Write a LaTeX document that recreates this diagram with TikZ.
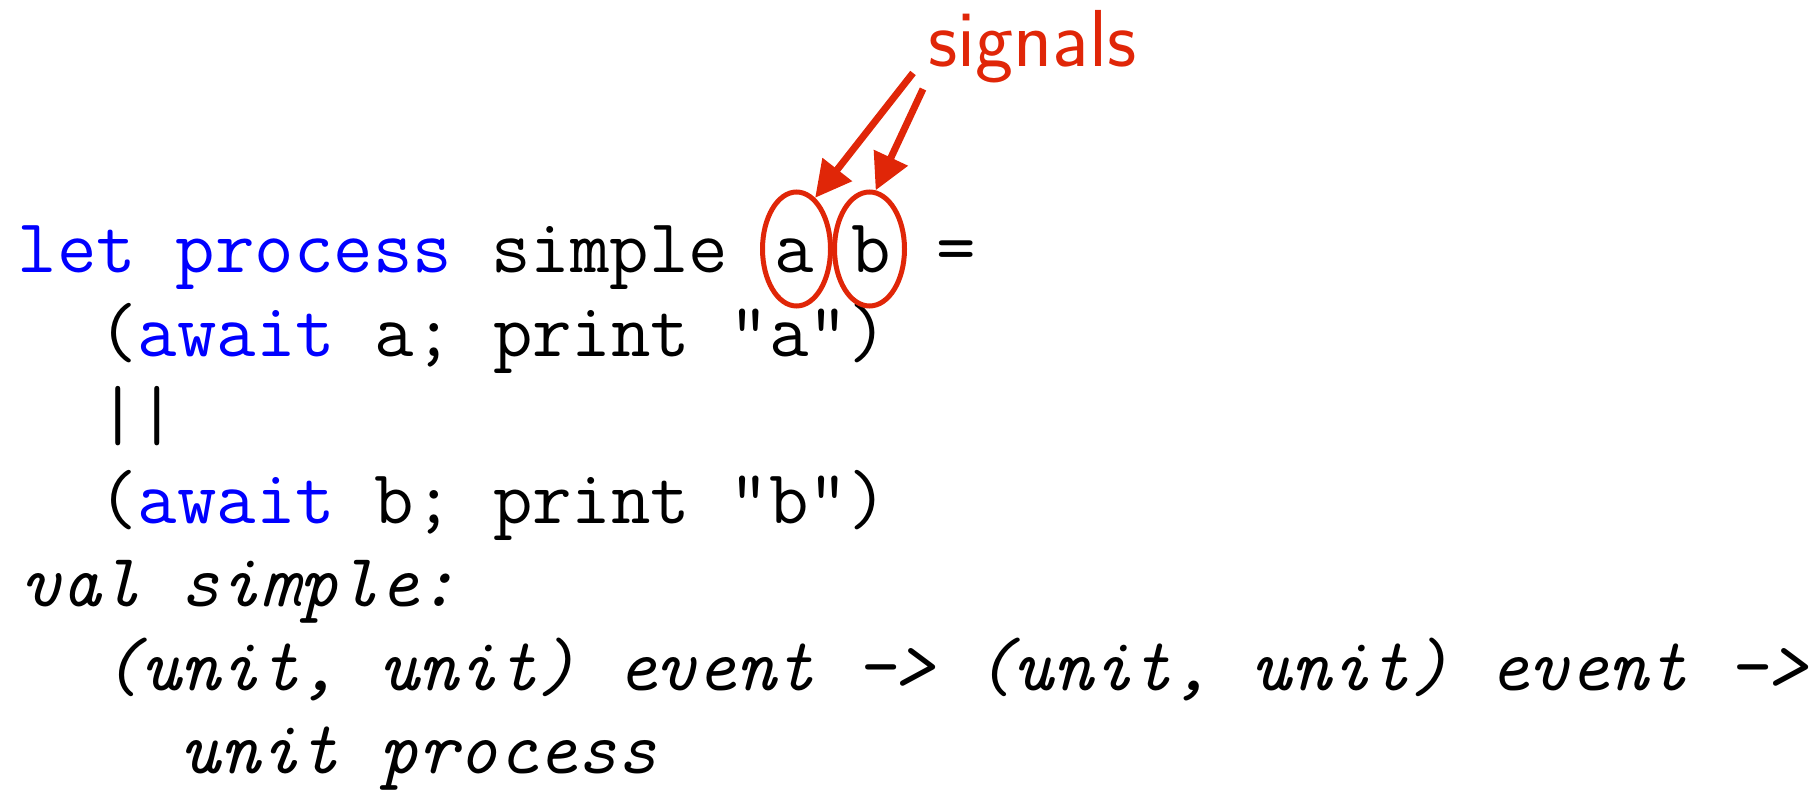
\documentclass[tikz,border=0pt]{standalone}
\usetikzlibrary{arrows.meta,shapes.geometric}
\definecolor{kwblue}{RGB}{0,0,255}
\definecolor{sigred}{RGB}{224,38,8}
\newcommand\kw[1]{\textcolor{kwblue}{#1}}
\begin{document}
\begin{tikzpicture}[x=0.1mm,y=-0.1mm,
  code/.style={anchor=base west,inner sep=0pt,outer sep=0pt,
    font=\fontsize{21.8pt}{25pt}\selectfont\ttfamily},
  param/.style={code,anchor=base},
  typ/.style={code,font=\fontsize{21.5pt}{25pt}\selectfont\ttfamily\itshape},
  ring/.style={ellipse,draw=sigred,line width=0.5mm,inner sep=0pt,minimum height=11.4mm},
  label/.style={anchor=base west,inner sep=0pt,text=sigred,
    font=\fontsize{23pt}{26pt}\selectfont\sffamily},
  sig/.style={draw=sigred,line width=0.7mm,-{Triangle[length=3.6mm,width=3.6mm]},fill=sigred}
]
\useasboundingbox (0,0) rectangle (1820,791);
% monospace cell widths (upright and italic) and left margins
\def\cw{40.22}
\def\ci{39.67}
\def\xo{18}
\def\xi{22}

% program text
\node[code]  (l1) at (\xo,272.7) {\kw{let} \kw{process} simple};
\node[param] (pa) at (794.5,272.7) {a};
\node[param] (pb) at (871,272.7) {b};
\node[param] (eq) at (956,272.7) {=};
\node[code] (l2) at (\xo+2*\cw,356.2) {(\kw{await} a; print "a")};
\node[code] (l3) at (\xo+2*\cw,439.7) {||};
\node[code] (l4) at (\xo+2*\cw,523.2) {(\kw{await} b; print "b")};
\node[typ]  (l5) at (\xi,606.7) {val simple:};
\node[typ]  (l6) at (\xi+2*\ci,690.2) {(unit, unit) event -> (unit, unit) event ->};
\node[typ]  (l7) at (\xi+4*\ci,773.7) {unit process};

% circled signal parameters
\node[ring,minimum width=6.8mm] (ea) at (796.5,249) {};
\node[ring,minimum width=7.0mm] (eb) at (869.5,249) {};

% annotation
\node[label] (signals) at (928,67) {signals};
\coordinate (s1) at (913,73);
\coordinate (s2) at (923,89);
\draw[sig] (s1) -- (ea.70);
\draw[sig] (s2) -- (eb.84);
\end{tikzpicture}
\end{document}
